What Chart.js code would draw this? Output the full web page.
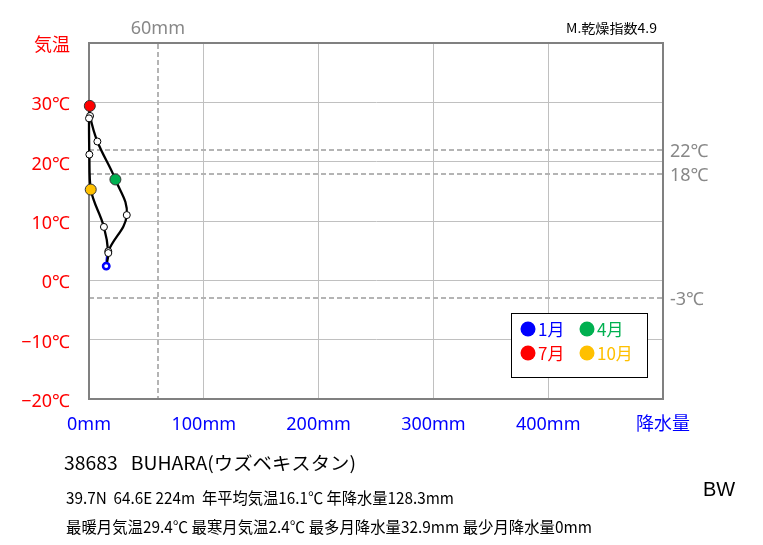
<!DOCTYPE html>
<html>
<head>
<meta charset="utf-8">
<title>雨温図 BUHARA</title>
<script src="https://cdn.jsdelivr.net/npm/chart.js"></script>
<style>
  body { margin: 0; background: #fff; }
</style>
</head>
<body>
<canvas id="climograph" width="763" height="545"></canvas>
<script>
// 月別の値 (1月〜12月)
const months = ['1月', '2月', '3月', '4月', '5月', '6月', '7月', '8月', '9月', '10月', '11月', '12月'];
const precip = [15.0, 16.8, 32.9, 23.0, 7.3, 0.9, 0.7, 0.0, 0.3, 1.5, 13.0, 16.8];   // mm
const temp = [2.4, 4.9, 11.0, 17.0, 23.4, 27.7, 29.4, 27.3, 21.2, 15.3, 9.0, 4.6];     // ℃

// 目盛り
const precipTicks = [0, 100, 200, 300, 400, 500];
const tempTicks = [-20, -10, 0, 10, 20, 30, 40];
// 気候区分の境界線
const refTemps = [22, 18, -3];
const refPrecip = [60];

// 凡例に出す月 (1月, 4月, 7月, 10月)
const markMonths = [0, 3, 6, 9];

// 観測所の情報
const stationLine = '38683   BUHARA(ウズベキスタン)';
const infoLine1 = '39.7N  64.6E 224m  年平均気温16.1℃ 年降水量128.3mm';
const infoLine2 = '最暖月気温29.4℃ 最寒月気温2.4℃ 最多月降水量32.9mm 最少月降水量0mm';
const dryIndex = 'M.乾燥指数4.9';
const climateType = 'BW';

const markColors = ['#0000ff', '#00b050', '#ff0000', '#ffc000'];
const tickFont = { family: '"Noto Sans", "Noto Sans CJK JP", sans-serif', size: 18 };
const jpFont = '"Noto Sans CJK JP", "Noto Sans", sans-serif';

// 1月〜12月をつないで1月に戻る
const loop = months.map((m, i) => ({ x: precip[i], y: temp[i] }));
loop.push({ x: precip[0], y: temp[0] });

// 横方向だけ伸縮して幅を合わせる
function fitText(ctx, text, x, y, w) {
    const nat = ctx.measureText(text).width;
    ctx.save();
    ctx.translate(x, y);
    ctx.scale(w / nat, 1);
    ctx.fillText(text, 0, 0);
    ctx.restore();
}

const extras = {
    id: 'extras',
    afterDraw(chart) {
        const ctx = chart.ctx;
        ctx.save();

        // 凡例
        ctx.fillStyle = '#fff';
        ctx.fillRect(511, 313, 136, 64);
        ctx.strokeStyle = '#000';
        ctx.lineWidth = 1;
        ctx.strokeRect(511.5, 313.5, 136, 64);
        const spots = [[528, 329], [587, 329], [528, 353], [587, 353]];
        ctx.font = '17px ' + jpFont;
        ctx.textBaseline = 'middle';
        ctx.textAlign = 'left';
        markMonths.forEach((mi, k) => {
            const [cx, cy] = spots[k];
            ctx.fillStyle = markColors[k];
            ctx.beginPath();
            ctx.arc(cx, cy, 7.5, 0, Math.PI * 2);
            ctx.fill();
            ctx.fillText(months[mi], cx + 10, cy + 1);
        });

        // 文字
        ctx.fillStyle = '#000';
        ctx.font = '13px ' + jpFont;
        fitText(ctx, dryIndex, 566, 28, 91);
        ctx.font = '18px ' + jpFont;
        fitText(ctx, stationLine, 64, 463, 292);
        ctx.font = '16px ' + jpFont;
        fitText(ctx, infoLine1, 66, 498, 388);
        fitText(ctx, infoLine2, 66, 527, 526);
        ctx.font = '20px "Liberation Sans", sans-serif';
        ctx.fillText(climateType, 703, 490);

        ctx.restore();
    }
};

const ctx = document.getElementById('climograph').getContext('2d');
const chart = new Chart(ctx, {
    type: 'scatter',
    data: {
        datasets: [{
            // 凡例の月の印
            data: markMonths.map(i => ({ x: precip[i], y: temp[i] })),
            showLine: false,
            pointRadius: [3.2, 5.5, 5.5, 5.5],
            pointBackgroundColor: ['#fff', markColors[1], markColors[2], markColors[3]],
            pointBorderColor: [markColors[0], '#333', '#333', '#333'],
            pointBorderWidth: [2.5, 1, 1, 1],
            clip: false
        }, {
            data: loop,
            showLine: true,
            borderColor: '#000',
            borderWidth: 2.3,
            tension: 0.4,
            pointRadius: c => c.dataIndex === loop.length - 1 ? 0 : 3.5,
            pointBackgroundColor: '#fff',
            pointBorderColor: '#000',
            pointBorderWidth: 1,
            clip: false,
            segment: {
                borderColor: c => c.p0DataIndex === 0 ? markColors[0] : undefined
            }
        }]
    },
    options: {
        responsive: false,
        animation: false,
        events: [],
        layout: { padding: 0 },
        plugins: {
            legend: { display: false },
            tooltip: { enabled: false }
        },
        scales: {
            x: {
                type: 'linear',
                position: 'bottom',
                min: 0,
                max: 500,
                afterBuildTicks: s => { s.ticks = precipTicks.map(v => ({ value: v })); },
                afterFit: s => { s.height = 146; },
                grid: { color: '#c0c0c0', lineWidth: 1, drawTicks: false },
                border: { color: '#808080', width: 2 },
                ticks: {
                    color: '#0000ff', font: tickFont, padding: 15, maxRotation: 0, autoSkip: false,
                    callback: v => v === 500 ? '降水量' : v + 'mm'
                }
            },
            y: {
                type: 'linear',
                position: 'left',
                min: -20,
                max: 40,
                afterBuildTicks: s => { s.ticks = tempTicks.map(v => ({ value: v })); },
                afterFit: s => { s.width = 89; },
                grid: { color: '#c0c0c0', lineWidth: 1, drawTicks: false },
                border: { color: '#808080', width: 2 },
                ticks: {
                    color: '#ff0000', font: tickFont, padding: 19, autoSkip: false, labelOffset: 3,
                    callback: v => v === 40 ? '気温' : (v < 0 ? '\u2212' + (-v) : v) + '℃'
                }
            },
            x2: {
                type: 'linear',
                position: 'top',
                min: 0,
                max: 500,
                afterBuildTicks: s => { s.ticks = refPrecip.map(v => ({ value: v })); },
                afterFit: s => { s.height = 43; },
                grid: { color: '#b4b4b4', lineWidth: 2, drawTicks: false },
                border: { color: '#808080', width: 2, dash: [5, 3] },
                ticks: {
                    color: '#888', font: tickFont, padding: 3, maxRotation: 0, autoSkip: false,
                    callback: v => v + 'mm'
                }
            },
            y2: {
                type: 'linear',
                position: 'right',
                min: -20,
                max: 40,
                afterBuildTicks: s => { s.ticks = refTemps.map(v => ({ value: v })); },
                afterFit: s => { s.width = 100; },
                grid: { color: '#b4b4b4', lineWidth: 2, drawTicks: false },
                border: { color: '#808080', width: 2, dash: [5, 3] },
                ticks: {
                    color: '#888', font: tickFont, padding: 7, autoSkip: false, labelOffset: 2,
                    callback: v => v + '℃'
                }
            }
        }
    },
    plugins: [extras]
});
</script>
</body>
</html>
